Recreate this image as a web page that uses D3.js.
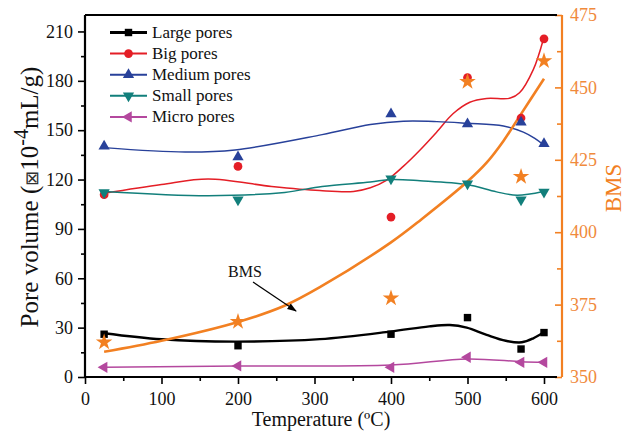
<!DOCTYPE html>
<html>
<head>
<meta charset="utf-8">
<script src="https://cdn.jsdelivr.net/npm/d3@7"></script>
<style>
  body { margin: 0; background: #fff; }
  svg { display: block; font-family: "Liberation Serif", "Times New Roman", serif; }
</style>
</head>
<body>
<div id="main"></div>
<script>
const W = 634, H = 435;
const plot = {left: 85, right: 557, top: 15, bottom: 377, axisR: 562};

// measured points
const temps = [25, 200, 400, 500, 570, 600];
const largePores  = [26, 19, 26, 36.1, 17, 27];
const bigPores    = [110.8, 128, 97.2, 182, 157.4, 205.5];
const mediumPores = [140.2, 133.7, 159.9, 153.8, 154.8, 141.8];
const smallPores  = [112.2, 107.7, 120.5, 117.5, 107.7, 112.4];
const microPores  = [5.9, 6.7, 5.9, 12, 8.9, 8.9];
const bms         = [362, 369.1, 377.2, 452, 419.2, 459.1];

// smoothed curves  [temperature, value]
const largeFit  = [[25,26.6],[100,22.9],[196,21.5],[307,23],[399,27.6],[450,30.8],[477,31.6],[499,30],[525,25.6],[550,22],[571,21.1],[586,23.5],[599,27]];
const bigFit    = [[25,111.6],[100,117],[161,120.3],[244,115.8],[307,113.3],[351,112.8],[373,115],[394,119.5],[416,128],[438,138],[460,149],[481,160],[503,167],[525,169.3],[556,169.5],[568,172.7],[586,186.8],[599,205]];
const mediumFit = [[25,139.4],[131,136.7],[196,138],[310,147.3],[373,153.4],[416,155.4],[460,155.2],[499,154.2],[547,152.6],[573,148.8],[588,145],[599,141.2]];
const smallFit  = [[25,112.8],[161,110.2],[261,112.2],[310,115.8],[373,118.5],[400,120],[438,119.3],[499,117],[538,112.5],[565,110.5],[599,112.8]];
const microFit  = [[25,6],[200,6.7],[400,7.3],[500,11],[570,9.3],[600,8.9]];
const bmsFit    = [[25,358.7],[100,362.5],[200,369],[260,374.5],[307,381],[400,396.5],[440,404.5],[500,417.5],[525,424],[547,431.5],[568,440],[600,453]];

const xTicks = [0, 100, 200, 300, 400, 500, 600];
const yTicks = [0, 30, 60, 90, 120, 150, 180, 210];
const rTicks = [350, 375, 400, 425, 450, 475];

const seriesNames = ['Large pores', 'Big pores', 'Medium pores', 'Small pores', 'Micro pores'];

const orange = '#f28022';

const x = d3.scaleLinear().domain([0, 617]).range([plot.left, plot.right]);
const y = d3.scaleLinear().domain([0, 220]).range([plot.bottom, plot.top]);
const yR = d3.scaleLinear().domain([350, 475]).range([plot.bottom, plot.top]);

const svg = d3.select('#main').append('svg')
  .attr('width', W).attr('height', H);

// axes
const gx = svg.append('g').attr('transform', `translate(0,${plot.bottom})`);
gx.call(d3.axisBottom(x).tickValues(xTicks).tickSize(7).tickPadding(8).tickSizeOuter(0));
const gxm = svg.append('g').attr('transform', `translate(0,${plot.bottom})`);
gxm.call(d3.axisBottom(x).tickValues(d3.range(50, 601, 100)).tickSize(4).tickFormat(''));

const gy = svg.append('g').attr('transform', `translate(${plot.left},0)`);
gy.call(d3.axisLeft(y).tickValues(yTicks).tickSize(7).tickPadding(5).tickSizeOuter(0));
const gym = svg.append('g').attr('transform', `translate(${plot.left},0)`);
gym.call(d3.axisLeft(y).tickValues(d3.range(15, 211, 30)).tickSize(4).tickFormat(''));

const gr = svg.append('g').attr('transform', `translate(${plot.axisR},0)`);
gr.call(d3.axisRight(yR).tickValues(rTicks).tickSize(-7).tickPadding(8).tickSizeOuter(0));
const grm = svg.append('g').attr('transform', `translate(${plot.axisR},0)`);
grm.call(d3.axisRight(yR).tickValues(d3.range(362.5, 475, 25)).tickSize(-5).tickFormat(''));

svg.selectAll('.domain').remove();
[gx, gxm, gy, gym].forEach(g => g.selectAll('line').attr('stroke', '#000').attr('stroke-width', 1.6));
[gr, grm].forEach(g => g.selectAll('line').attr('stroke', orange).attr('stroke-width', 1.6));
[gx, gy].forEach(g => g.selectAll('text').attr('font-size', 18).attr('fill', '#111').attr('font-family', 'Liberation Serif'));
gr.selectAll('text').attr('font-size', 18).attr('fill', '#f08a3c').attr('font-family', 'Liberation Serif');

// frame
svg.append('line').attr('x1', plot.left).attr('x2', plot.right).attr('y1', plot.top).attr('y2', plot.top)
  .attr('stroke', '#000').attr('stroke-width', 2);
svg.append('line').attr('x1', plot.left).attr('x2', plot.right).attr('y1', plot.bottom).attr('y2', plot.bottom)
  .attr('stroke', '#000').attr('stroke-width', 2.2);
svg.append('line').attr('x1', plot.left).attr('x2', plot.left).attr('y1', plot.top).attr('y2', plot.bottom)
  .attr('stroke', '#000').attr('stroke-width', 2.2);
svg.append('line').attr('x1', plot.axisR).attr('x2', plot.axisR).attr('y1', plot.top).attr('y2', plot.bottom)
  .attr('stroke', orange).attr('stroke-width', 2.2);

const series = [
  {name: seriesNames[0], vals: largePores,  fit: largeFit,  color: '#000000', sym: d3.symbolSquare,   size: 55, rot: 0,   lw: 2.4},
  {name: seriesNames[1], vals: bigPores,    fit: bigFit,    color: '#e41e26', sym: d3.symbolCircle,   size: 60, rot: 0,   lw: 1.5},
  {name: seriesNames[2], vals: mediumPores, fit: mediumFit, color: '#28419a', sym: d3.symbolTriangle, size: 55, rot: 0,   lw: 1.5},
  {name: seriesNames[3], vals: smallPores,  fit: smallFit,  color: '#127f7b', sym: d3.symbolTriangle, size: 55, rot: 180, lw: 1.5},
  {name: seriesNames[4], vals: microPores,  fit: microFit,  color: '#b4489e', sym: d3.symbolTriangle, size: 55, rot: -90, lw: 1.5}
];

const line = d3.line().x(d => x(d[0])).y(d => y(d[1])).curve(d3.curveCatmullRom.alpha(0.5));
const lineR = d3.line().x(d => x(d[0])).y(d => yR(d[1])).curve(d3.curveCatmullRom.alpha(0.5));

series.forEach(s => {
  svg.append('path').attr('d', line(s.fit))
    .attr('fill', 'none').attr('stroke', s.color).attr('stroke-width', s.lw);
});

svg.append('path').attr('d', lineR(bmsFit))
  .attr('fill', 'none').attr('stroke', orange).attr('stroke-width', 2.6);

series.forEach(s => {
  svg.append('g').selectAll('path')
    .data(temps)
    .enter()
    .append('path')
    .attr('d', d3.symbol().type(s.sym).size(s.size))
    .attr('transform', (t, i) => `translate(${x(t)},${y(s.vals[i])}) rotate(${s.rot})`)
    .attr('fill', s.color);
});

svg.append('g').selectAll('path')
  .data(temps)
  .enter()
  .append('path')
  .attr('d', d3.symbol().type(d3.symbolStar).size(85))
  .attr('transform', (t, i) => `translate(${x(t)},${yR(bms[i])})`)
  .attr('fill', orange);

// legend
const legend = svg.append('g').attr('id', 'legend');
series.forEach((s, i) => {
  const ly = 32.5 + i * 21.1;
  legend.append('line').attr('x1', 110).attr('x2', 147).attr('y1', ly).attr('y2', ly)
    .attr('stroke', s.color).attr('stroke-width', i === 0 ? 3 : 2);
  legend.append('path')
    .attr('d', d3.symbol().type(s.sym).size(s.size))
    .attr('transform', `translate(128.5,${ly}) rotate(${s.rot})`)
    .attr('fill', s.color);
  legend.append('text').attr('x', 152).attr('y', ly + 5.5)
    .attr('font-size', 17).attr('fill', '#111').text(s.name);
});

// annotation
svg.append('text').attr('x', 228).attr('y', 277).attr('font-size', 16).attr('fill', '#111').text('BMS');
svg.append('defs').append('marker')
  .attr('id', 'arrow').attr('viewBox', '0 0 10 10').attr('refX', 9).attr('refY', 5)
  .attr('markerWidth', 8).attr('markerHeight', 8).attr('orient', 'auto')
  .append('path').attr('d', 'M0,1.5 L10,5 L0,8.5 Z').attr('fill', '#000');
svg.append('line').attr('x1', 253).attr('y1', 282).attr('x2', 296).attr('y2', 311)
  .attr('stroke', '#000').attr('stroke-width', 1.2).attr('marker-end', 'url(#arrow)');

// axis titles
svg.append('text').attr('x', (plot.left + plot.right) / 2).attr('y', 426)
  .attr('text-anchor', 'middle').attr('font-size', 20).attr('fill', '#111')
  .text('Temperature (ºC)');

const yt = svg.append('text')
  .attr('transform', 'translate(38,197) rotate(-90)')
  .attr('text-anchor', 'middle').attr('font-size', 25).attr('fill', '#111');
yt.append('tspan').text('Pore volume (');
yt.append('tspan').attr('font-size', 18).attr('font-weight', 300).attr('fill', '#333').text('⊠');
yt.append('tspan').text('10');
yt.append('tspan').attr('font-size', 20).attr('dy', -10).text('-4');
yt.append('tspan').attr('dy', 10).text('mL/g)');

svg.append('text')
  .attr('transform', 'translate(621,188) rotate(-90)')
  .attr('text-anchor', 'middle').attr('font-size', 23).attr('fill', orange)
  .text('BMS');
</script>
</body>
</html>
